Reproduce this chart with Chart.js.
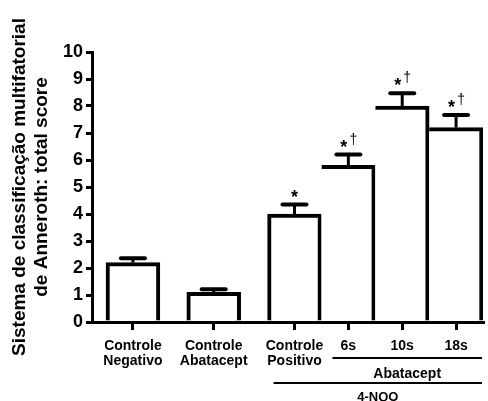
<!DOCTYPE html>
<html>
<head>
<meta charset="utf-8">
<script src="https://cdn.jsdelivr.net/npm/chart.js@4"></script>
<style>
  body { margin: 0; background: #fff; }
  #wrap { width: 488px; height: 401px; }
</style>
</head>
<body>
<div id="wrap"><canvas id="myChart" width="488" height="401"></canvas></div>
<script>
// data
const groups = [
  ['Controle', 'Negativo'],
  ['Controle', 'Abatacept'],
  ['Controle', 'Positivo'],
  ['6s'],
  ['10s'],
  ['18s']
];
const scores = [2.2, 1.1, 4.0, 5.8, 8.0, 7.2];
const errors = [0.16, 0.11, 0.35, 0.4, 0.47, 0.47];
const marks = ['', '', '*', '*', '*', '*'];
const daggers = [false, false, false, true, true, true];
const yTicks = [0, 1, 2, 3, 4, 5, 6, 7, 8, 9, 10];

// layout: the last four bars touch, the first three have gaps
const xPos = [0, 1.5, 3, 4, 5, 6];

const points = scores.map((v, i) => ({ x: xPos[i], y: v }));

const errorBars = {
  id: 'errorBars',
  afterDatasetsDraw(chart) {
    const ctx = chart.ctx;
    const y = chart.scales.y;
    const meta = chart.getDatasetMeta(0);
    ctx.save();
    ctx.strokeStyle = '#000';
    ctx.fillStyle = '#000';
    meta.data.forEach((bar, i) => {
      const top = y.getPixelForValue(scores[i] + errors[i]);
      ctx.lineCap = 'butt';
      ctx.lineWidth = 3;
      ctx.beginPath();
      ctx.moveTo(bar.x, bar.y);
      ctx.lineTo(bar.x, top);
      ctx.stroke();
      ctx.lineCap = 'round';
      ctx.lineWidth = 4;
      ctx.beginPath();
      ctx.moveTo(bar.x - 12, top);
      ctx.lineTo(bar.x + 12, top);
      ctx.stroke();

      if (marks[i]) {
        const sx = daggers[i] ? bar.x - 4.5 : bar.x;
        const cy = top - 12;
        ctx.textAlign = 'center';
        ctx.textBaseline = 'alphabetic';
        ctx.font = 'bold 18px Arial, "Liberation Sans"';
        ctx.fillText(marks[i], sx, cy + 10);
        if (daggers[i]) {
          ctx.font = '14px Arial, "Liberation Sans"';
          ctx.fillText('\u2020', bar.x + 5, cy + 1);
        }
      }
    });
    ctx.restore();
  }
};

const groupLines = {
  id: 'groupLines',
  afterDraw(chart) {
    const ctx = chart.ctx;
    const x = chart.scales.x;
    const half = (x.getPixelForValue(1) - x.getPixelForValue(0)) / 2;
    ctx.save();
    ctx.fillStyle = '#000';
    ctx.strokeStyle = '#000';
    ctx.lineWidth = 2;
    ctx.font = 'bold 14px Arial, "Liberation Sans"';
    ctx.textAlign = 'center';
    ctx.textBaseline = 'alphabetic';

    // Abatacept bracket under 6s..18s
    const a0 = x.getPixelForValue(xPos[3]) - half + 11;
    const a1 = x.getPixelForValue(xPos[5]) + half - 1;
    ctx.beginPath();
    ctx.moveTo(a0, 358);
    ctx.lineTo(a1, 358);
    ctx.stroke();
    ctx.fillText('Abatacept', (a0 + a1) / 2, 378);

    // 4-NQO bracket under positive control + treated groups
    const n0 = x.getPixelForValue(xPos[2]) - half + 6;
    ctx.beginPath();
    ctx.moveTo(n0, 383);
    ctx.lineTo(a1, 383);
    ctx.stroke();
    ctx.font = 'bold 13px Arial, "Liberation Sans"';
    ctx.fillText('4-NQO', (n0 + a1) / 2, 401);
    ctx.restore();
  }
};

const data = {
  datasets: [{
    data: points,
    backgroundColor: '#fff',
    borderColor: '#000',
    borderWidth: ctx => {
      const i = ctx.dataIndex;
      if (i > 0 && xPos[i] - xPos[i - 1] === 1) {
        return { top: 4, right: 4, left: 0, bottom: 0 };
      }
      return { top: 4, right: 4, left: 4, bottom: 0 };
    },
    borderSkipped: 'start',
    barPercentage: 1,
    categoryPercentage: 1
  }]
};

const config = {
  type: 'bar',
  data: data,
  options: {
    responsive: false,
    animation: false,
    layout: { padding: { top: 52, right: 5, left: 0, bottom: 0 } },
    plugins: {
      legend: { display: false },
      tooltip: { enabled: false }
    },
    scales: {
      x: {
        type: 'linear',
        min: -0.76,
        max: 6.5,
        offset: false,
        afterFit: s => { s.height = 79; },
        afterBuildTicks: s => { s.ticks = xPos.map(v => ({ value: v })); },
        grid: {
          offset: false,
          drawOnChartArea: false,
          color: '#000',
          lineWidth: 3,
          tickLength: 8
        },
        border: { display: true, color: '#000', width: 3 },
        ticks: {
          color: '#000',
          padding: 9,
          autoSkip: false,
          maxRotation: 0,
          font: { family: 'Arial, "Liberation Sans"', size: 14, weight: 'bold', lineHeight: '15px' },
          callback: v => {
            const i = xPos.indexOf(v);
            return i >= 0 ? groups[i] : '';
          }
        }
      },
      y: {
        min: 0,
        max: 10,
        afterFit: s => { s.width = 92; },
        afterBuildTicks: s => { s.ticks = yTicks.map(v => ({ value: v })); },
        grid: {
          drawOnChartArea: false,
          color: '#000',
          lineWidth: 3,
          tickLength: 6
        },
        border: { display: true, color: '#000', width: 3 },
        ticks: {
          color: '#000',
          padding: 3,
          font: { family: 'Arial, "Liberation Sans"', size: 18, weight: 'bold' }
        },
        title: {
          display: true,
          text: ['Sistema de classificação multifatorial', 'de Anneroth: total score'],
          color: '#000',
          padding: { top: 9, bottom: 0 },
          font: { family: 'Arial, "Liberation Sans"', size: 19, weight: 'bold', lineHeight: '22px' }
        }
      }
    }
  },
  plugins: [errorBars, groupLines]
};

const myChart = new Chart(document.getElementById('myChart'), config);
</script>
</body>
</html>
